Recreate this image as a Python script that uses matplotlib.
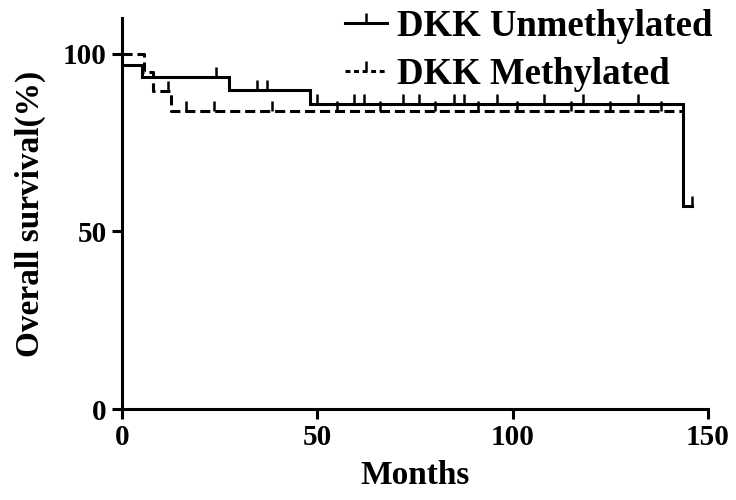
import matplotlib
matplotlib.use("Agg")
import matplotlib.pyplot as plt
import numpy as np
from matplotlib.lines import Line2D

# Kaplan-Meier step data (months, survival %)
unmeth_times = [0, 5.0, 27.5, 48.0, 143.6, 146.0]
unmeth_surv = [96.9, 93.3, 89.8, 85.8, 57.1, 57.1]
unmeth_censor_t = [24.0, 34.5, 37.0, 50.0, 59.5, 62.0, 72.0, 76.0, 85.0, 87.5, 96.0, 108.0, 118.0, 132.0, 146.0]

meth_times = [0, 5.5, 7.9, 12.5, 143.6]
meth_surv = [100.0, 94.7, 89.5, 83.9, 83.9]
meth_censor_t = [11.8, 16.5, 23.5, 38.5, 55.0, 66.0, 80.0, 91.0, 101.0, 115.0, 125.0, 138.0]

x_ticks = [0, 50, 100, 150]
y_ticks = [0, 50, 100]

plt.rcParams['font.family'] = ['Liberation Serif', 'DejaVu Serif']
plt.rcParams['font.weight'] = 'bold'

fig = plt.figure(figsize=(7.36, 5.0), dpi=100)
ax = fig.add_axes([0.1658, 0.182, 0.962 - 0.1658, 0.964 - 0.182])

def surv_at(times, surv, t):
    idx = np.searchsorted(times, t, side='right') - 1
    return np.array(surv)[idx]

lw = 2.2
ax.step(unmeth_times, unmeth_surv, where='post', color='black', lw=lw, solid_joinstyle='miter')
ax.plot(unmeth_censor_t, surv_at(unmeth_times, unmeth_surv, unmeth_censor_t), ls='none',
        marker=2, ms=7, mew=1.8, color='black')

dash = (0, (3.3, 1.6))
ax.step(meth_times, meth_surv, where='post', color='black', lw=lw, ls=dash)
ax.plot(meth_censor_t, surv_at(meth_times, meth_surv, meth_censor_t), ls='none',
        marker=2, ms=7, mew=1.8, color='black')

ax.set_xlim(0, 150)
ax.set_ylim(0, 110)
ax.set_xticks(x_ticks)
ax.set_yticks(y_ticks)
for s in ['top', 'right']:
    ax.spines[s].set_visible(False)
for s in ['left', 'bottom']:
    ax.spines[s].set_linewidth(2.2)
ax.tick_params(axis='both', direction='out', length=7, width=2.2, labelsize=21, pad=4)
for lab in ax.get_xticklabels() + ax.get_yticklabels():
    lab.set_fontweight('bold')

ax.set_xlabel('Months', fontsize=24, fontweight='bold', labelpad=6)
ax.set_ylabel('Overall survival(%)', fontsize=24, fontweight='bold', labelpad=12)

h1 = Line2D([0, 0.5, 1], [0, 0, 0], color='black', lw=lw, marker=2, ms=7, mew=1.8, markevery=[1])
h2 = Line2D([0, 0.5, 1], [0, 0, 0], color='black', lw=lw, ls=(0, (1.6, 1.2)), marker=2, ms=7, mew=1.8, markevery=[1])
leg = fig.legend([h1, h2], ['DKK Unmethylated', 'DKK Methylated'], loc='upper left',
                 bbox_to_anchor=(345 / 736, 0.983), frameon=False,
                 handlelength=1.15, handletextpad=0.25, labelspacing=0.36,
                 borderpad=0.0, borderaxespad=0.0,
                 prop={'weight': 'bold', 'size': 26.5})

fig.savefig('out.png', dpi=100)
